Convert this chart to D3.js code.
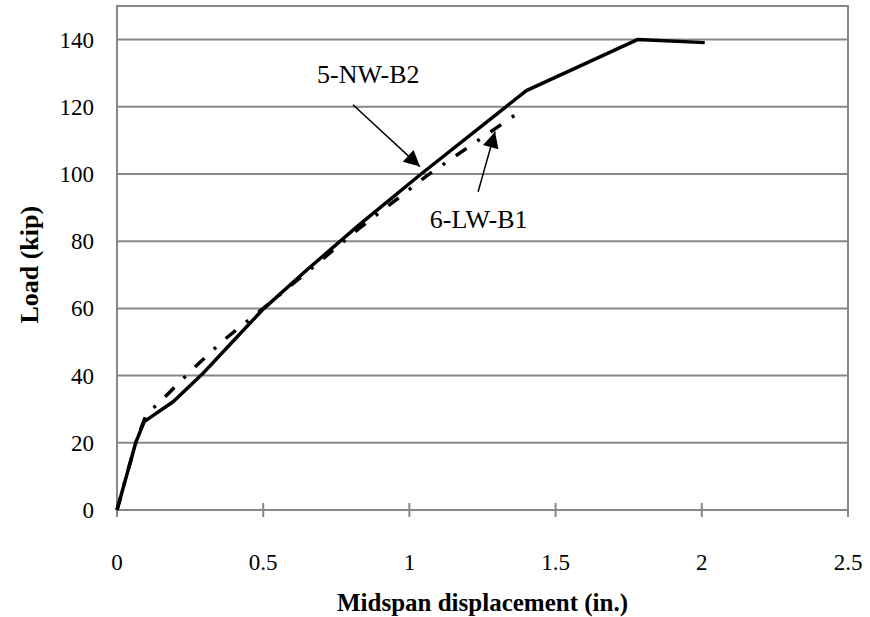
<!DOCTYPE html>
<meta charset="utf-8">
<script src="https://d3js.org/d3.v7.min.js"></script>
<style>
  body { margin: 0; background: #fff; }
  text { font-family: "Liberation Serif", "Times New Roman", serif; fill: #000; }
</style>
<div id="chart"></div>
<script>

// data (displacement in., load kip)
var nwDisp = [0, 0.065, 0.093, 0.193, 0.29, 0.40, 0.50, 0.65, 0.83, 1.04, 1.33, 1.40, 1.78, 2.01];
var nwLoad = [0, 20.3, 26.3, 32.3, 40.3, 50.5, 59.8, 71.5, 85.0, 100, 120, 124.8, 140, 139.1];

var lwDisp = [0, 0.065, 0.10, 0.145, 0.25, 0.364, 0.50, 0.65, 0.825, 1.065, 1.372];
var lwLoad = [0, 20.3, 28.5, 32.0, 41.2, 50.5, 60.0, 70.8, 83.6, 99.8, 118.2];

var xTicks = [0, 0.5, 1, 1.5, 2, 2.5];
var yTicks = [0, 20, 40, 60, 80, 100, 120, 140];

// labels with arrows: text spot, arrow start, arrow tip (data units)
var labels = [
  {name: "5-NW-B2", tx: 0.684, ty: 127.2, x1: 0.807, y1: 120.6, x2: 1.036, y2: 102.2},
  {name: "6-LW-B1", tx: 1.070, ty: 84.0, x1: 1.235, y1: 94.7, x2: 1.293, y2: 112.6}
];

var width = 870, height = 617;
var margin = {top: 6, right: 22, bottom: 107, left: 117};

var svg = d3.select("#chart")
  .append("svg")
  .attr("width", width)
  .attr("height", height);

var x = d3.scaleLinear().domain([0, 2.5]).range([margin.left, width - margin.right]);
var y = d3.scaleLinear().domain([0, 150]).range([height - margin.bottom, margin.top]);

var grey = "#888888";

// gridlines
svg.selectAll(".grid")
  .data(yTicks.slice(1))
  .enter()
  .append("line")
  .attr("x1", x(0)).attr("x2", x(2.5))
  .attr("y1", function(d) { return y(d); })
  .attr("y2", function(d) { return y(d); })
  .style("stroke", grey)
  .style("stroke-width", 2);

// plot area frame
svg.append("rect")
  .attr("x", x(0)).attr("y", y(150))
  .attr("width", x(2.5) - x(0))
  .attr("height", y(0) - y(150))
  .style("fill", "none")
  .style("stroke", grey)
  .style("stroke-width", 2);

// x axis ticks (cross type)
svg.selectAll(".xtick")
  .data(xTicks)
  .enter()
  .append("line")
  .attr("x1", function(d) { return x(d); })
  .attr("x2", function(d) { return x(d); })
  .attr("y1", y(0) - 7).attr("y2", y(0) + 7)
  .style("stroke", grey)
  .style("stroke-width", 2);

svg.selectAll(".xlab")
  .data(xTicks)
  .enter()
  .append("text")
  .attr("x", function(d) { return x(d); })
  .attr("y", y(0) + 60)
  .attr("text-anchor", "middle")
  .style("font-size", "23px")
  .text(function(d) { return d; });

svg.selectAll(".ylab")
  .data(yTicks)
  .enter()
  .append("text")
  .attr("x", x(0) - 23)
  .attr("y", function(d) { return y(d); })
  .attr("dy", "0.35em")
  .attr("text-anchor", "end")
  .style("font-size", "23px")
  .text(function(d) { return d; });

// axis titles
svg.append("text")
  .attr("x", (x(0) + x(2.5)) / 2)
  .attr("y", 611)
  .attr("text-anchor", "middle")
  .style("font-size", "25px")
  .style("font-weight", "bold")
  .text("Midspan displacement (in.)");

svg.append("text")
  .attr("transform", "translate(38," + y(73) + ") rotate(-90)")
  .attr("text-anchor", "middle")
  .style("font-size", "26px")
  .style("font-weight", "bold")
  .text("Load (kip)");

// curves
var line = d3.line()
  .x(function(d) { return x(d[0]); })
  .y(function(d) { return y(d[1]); });

svg.append("path")
  .datum(d3.zip(lwDisp, lwLoad))
  .attr("d", line)
  .style("fill", "none")
  .style("stroke", "#000")
  .style("stroke-width", 3.5)
  .style("stroke-dasharray", "13,13,3,13");

svg.append("path")
  .datum(d3.zip(nwDisp, nwLoad))
  .attr("d", line)
  .style("fill", "none")
  .style("stroke", "#000")
  .style("stroke-width", 3.5)
  .style("stroke-linejoin", "round");

// arrow head
svg.append("defs").append("marker")
  .attr("id", "head")
  .attr("viewBox", "0 0 10 10")
  .attr("refX", 10).attr("refY", 5)
  .attr("markerUnits", "userSpaceOnUse")
  .attr("markerWidth", 20).attr("markerHeight", 16)
  .attr("orient", "auto")
  .append("path")
  .attr("d", "M0,0L10,5L0,10Z")
  .style("fill", "#000");

svg.selectAll(".arrow")
  .data(labels)
  .enter()
  .append("line")
  .attr("x1", function(d) { return x(d.x1); })
  .attr("y1", function(d) { return y(d.y1); })
  .attr("x2", function(d) { return x(d.x2); })
  .attr("y2", function(d) { return y(d.y2); })
  .attr("marker-end", "url(#head)")
  .style("stroke", "#000")
  .style("stroke-width", 1.5);

svg.selectAll(".note")
  .data(labels)
  .enter()
  .append("text")
  .attr("x", function(d) { return x(d.tx); })
  .attr("y", function(d) { return y(d.ty); })
  .style("font-size", "26px")
  .text(function(d) { return d.name; });

</script>
